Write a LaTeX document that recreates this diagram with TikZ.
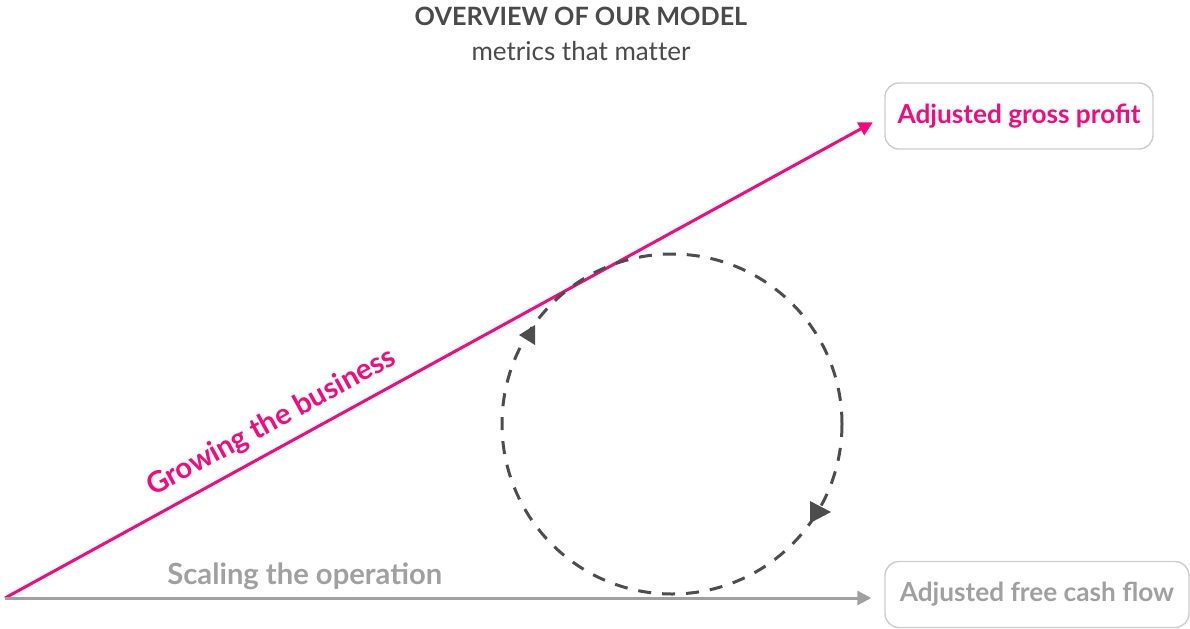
\documentclass[tikz,border=0pt]{standalone}
\usepackage{fontspec}
\setmainfont{Lato}
\usetikzlibrary{arrows.meta}
\tikzset{>={Triangle[length=7pt,width=7pt]}}
\definecolor{growpink}{RGB}{245,10,125}
\definecolor{scalegray}{RGB}{160,160,160}
\definecolor{darktext}{RGB}{74,74,74}
\definecolor{loopgray}{RGB}{77,77,77}
\definecolor{boxline}{RGB}{204,204,204}
\tikzset{
	metric/.style={draw=boxline,line width=0.7pt,rounded corners=7pt,minimum height=33pt,font=\fontsize{13.1}{16}\selectfont\bfseries},
	trend/.style={->,line width=1.5pt,shorten >=6.5pt},
	trendlabel/.style={font=\fontsize{14.6}{17}\selectfont\bfseries},
	loop/.style={loopgray,line width=1.5pt,dash pattern=on 6.5pt off 5.5pt}
}

\begin{document}
\begin{tikzpicture}[x=0.5pt,y=-0.5pt]
	\useasboundingbox (0,0) rectangle (1190,628);
	\node (title) at(581,16)[font=\fontsize{12.6}{15}\selectfont\bfseries,text=darktext]{OVERVIEW OF OUR MODEL};
	\node (sub) at(581,51)[font=\fontsize{13}{15}\selectfont,text=darktext]{metrics that mat\kern0pt ter};
	\node (gross) at(1019,116)[metric,text=growpink,minimum width=134pt]{Adjusted gross profit};
	\node (cash) at(1037,594.5)[metric,text=scalegray,minimum width=152pt]{Adjusted free cash flow};
	\coordinate (o) at(5,598);
	% the two growth lines
	\draw[trend,growpink](o)--(gross.west)
		node[sloped,above=2pt,pos=0.317,trendlabel]{Growing the business};
	\draw[trend,scalegray](o)--(o -| cash.west)
		node[above=0pt,pos=0.341,trendlabel]{Scaling the operation};
	% feedback loop
	\coordinate (loop) at(672,424);
	\draw[loop](loop) circle (170);
	\fill[loopgray]([shift={(-153,-89)}]loop)--++(16,-10)--++(0,20)--cycle;
	\fill[loopgray]([shift={(159,88)}]loop)--++(-21,-11)--++(0,22)--cycle;
\end{tikzpicture}
\end{document}
